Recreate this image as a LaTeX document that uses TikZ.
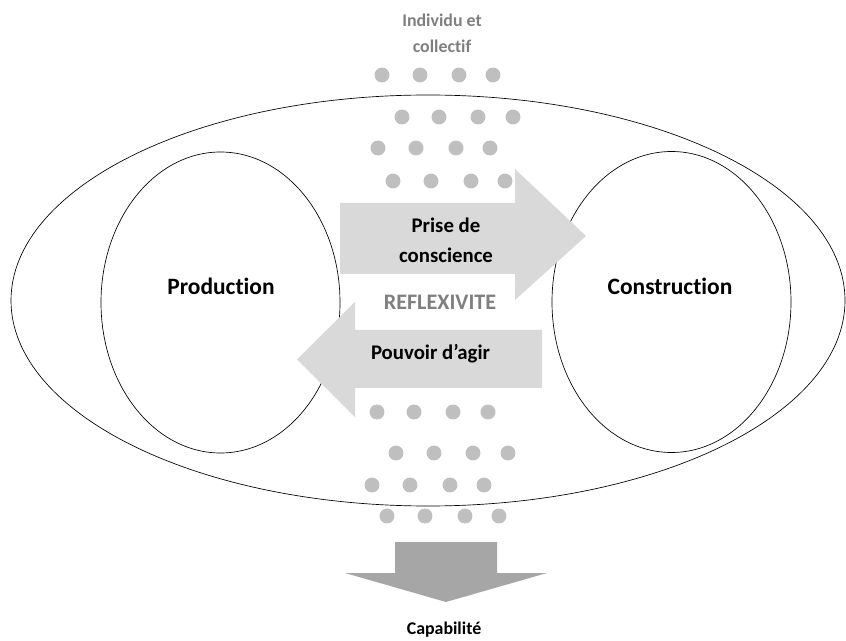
\documentclass[tikz,border=0pt]{standalone}
\usepackage{fontspec}
\setmainfont{Carlito}[Ligatures={NoCommon}]
\usetikzlibrary{shapes.geometric}
\definecolor{arrowgray}{HTML}{D9D9D9}
\definecolor{dotgray}{HTML}{BFBFBF}
\definecolor{downgray}{HTML}{A6A6A6}
\definecolor{textgray}{HTML}{7F7F7F}
\tikzset{
  ring/.style={draw=black, line width=0.5pt, ellipse, inner sep=0pt},
  bigarrow/.style={fill=arrowgray, draw=none},
  dotshape/.style={fill=dotgray},
  bigtxt/.style={font=\bfseries\fontsize{17.6pt}{21pt}\selectfont, anchor=base, inner sep=0pt},
  arrtxt/.style={font=\bfseries\fontsize{15.6pt}{19pt}\selectfont, anchor=base, inner sep=0pt},
  midtxt/.style={font=\bfseries\fontsize{16.6pt}{19pt}\selectfont, anchor=base, inner sep=0pt},
  smalltxt/.style={font=\bfseries\fontsize{13.4pt}{16pt}\selectfont, anchor=base, inner sep=0pt},
}
\begin{document}
\begin{tikzpicture}[x=0.75pt,y=-0.75pt]
\useasboundingbox (0,0) rectangle (846,641);
% ellipses
\node[ring, minimum width=625.5pt, minimum height=308.25pt] (outer) at (428,300.5) {};
\node[ring, minimum width=179.25pt, minimum height=225.75pt] (prod) at (220.5,302.5) {};
\node[ring, minimum width=179.25pt, minimum height=225.75pt] (cons) at (671.5,302) {};
% arrows
\fill[bigarrow] (340,203) -- (515,203) -- (515,169) -- (586,236) -- (515,300) -- (515,274) -- (340,274) -- cycle;
\fill[bigarrow] (542,330) -- (355,330) -- (355,302) -- (297,359.5) -- (355,417) -- (355,388) -- (542,388) -- cycle;
\fill[downgray] (395,542) -- (497,542) -- (497,573) -- (547,573) -- (446,602) -- (345,573) -- (395,573) -- cycle;
% dots
\foreach \x/\y in {382/75,420/75,459/75,493/75,
                   402/117,439/117,478/117,513/117,
                   378/148,416/148,456/148,490/148,
                   393/181,431/181,471/181,505/181,
                   377/412,414/412,453/412,488/412,
                   396/453,434/453,473/453,508/453,
                   372/485,410/485,450/485,484/485,
                   387/516,425/516,465/516,499/516}
  \fill[dotshape] (\x,\y) circle[radius=5.6pt];
% texts
\node[bigtxt] (tprod) at (221,295) {Production};
\node[bigtxt] (tcons) at (670,295) {Construction};
\node[arrtxt] (tprise1) at (446,233) {Prise de};
\node[arrtxt] (tprise2) at (446,263) {conscience};
\node[midtxt, text=textgray] (trefl) at (440,310) {REFLEXIVITE};
\node[arrtxt] (tpouv) at (430.5,360) {Pouvoir d’agir};
\node[smalltxt, text=textgray] (tind1) at (442,27) {Individu et};
\node[smalltxt, text=textgray] (tind2) at (442,53) {collectif};
\node[smalltxt] (tcap) at (444,634) {Capabilité};
\end{tikzpicture}
\end{document}
